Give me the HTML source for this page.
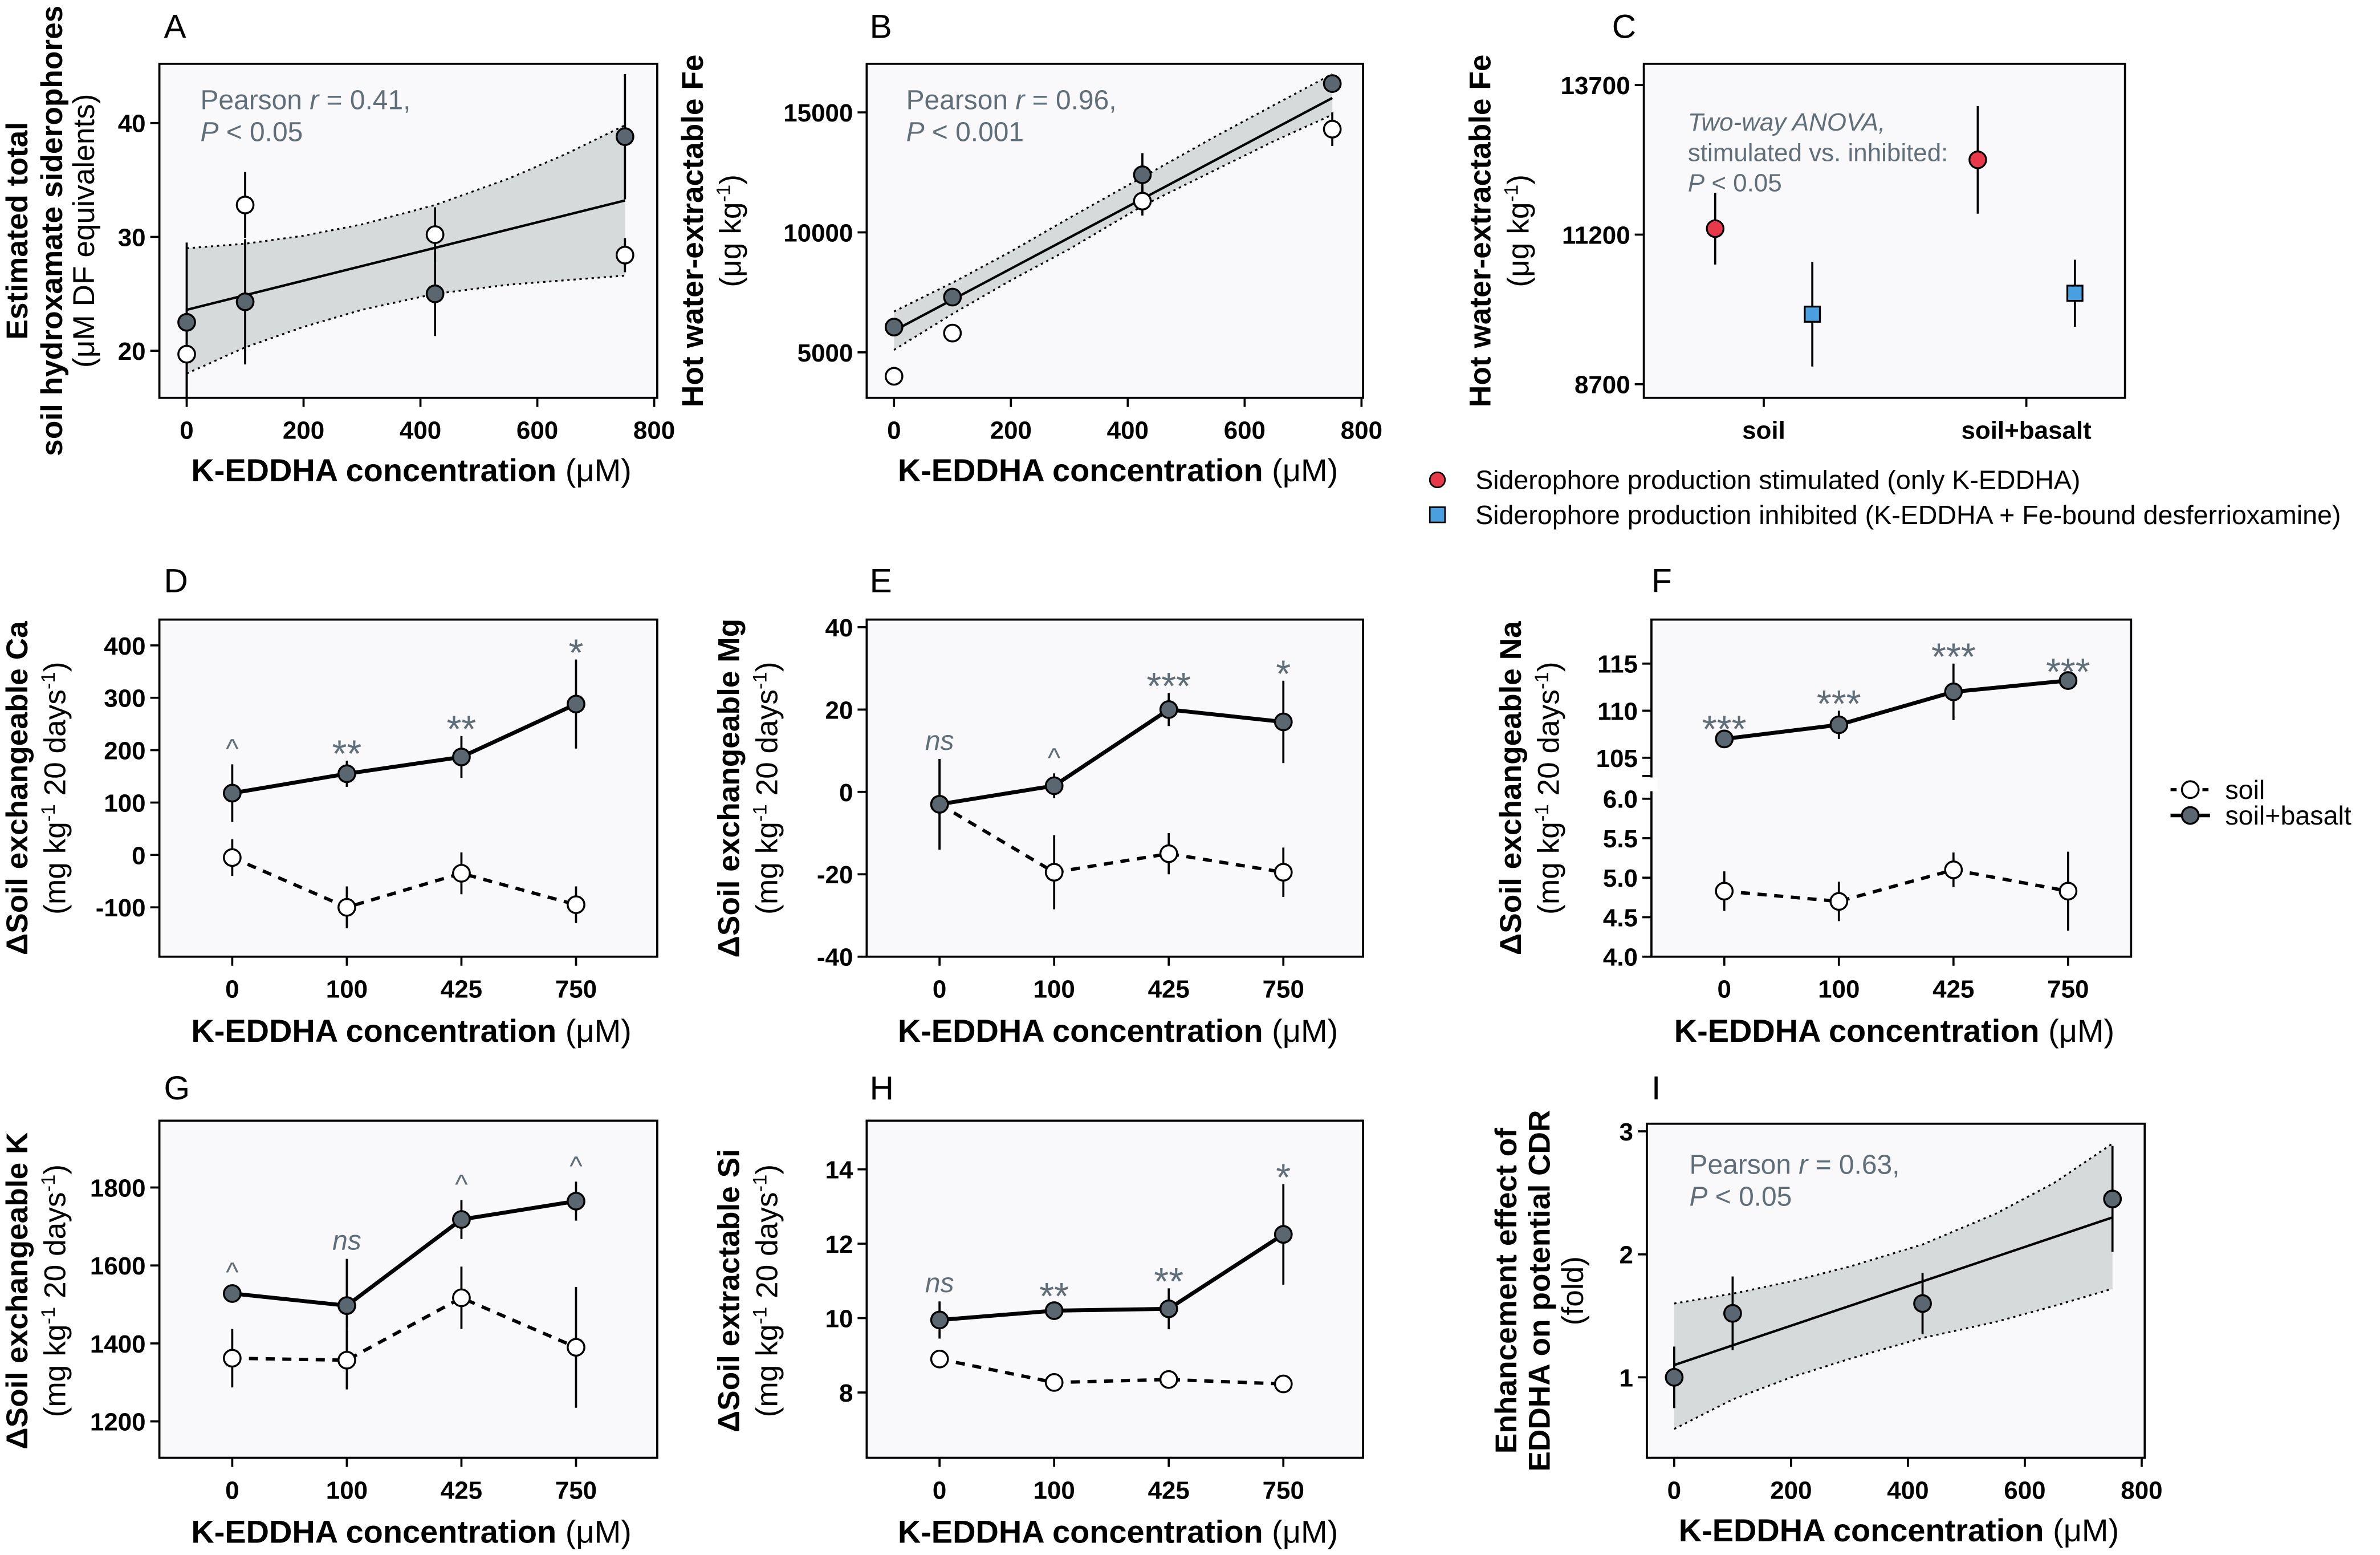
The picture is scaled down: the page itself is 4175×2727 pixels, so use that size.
<!DOCTYPE html>
<html><head><meta charset="utf-8"><style>
html,body{margin:0;padding:0;background:#fff}
svg{display:block}
text{font-family:"Liberation Sans",sans-serif}
.tk{font-family:"Liberation Sans Narrow","Liberation Sans",sans-serif;font-weight:bold;font-size:16.5px}
.tt{font-weight:bold;font-size:21px}
.yt{font-weight:bold;font-size:20px}
.ann{fill:#5f6e78;font-size:18px}
.lt{font-size:22px}
</style></head><body>
<svg id="fig" xmlns="http://www.w3.org/2000/svg" width="4175" height="2727" viewBox="0 0 1568 1024" preserveAspectRatio="none"></svg>
<script>
// ---- data ----
const contX=[0,100,425,750];
const catLabels=["0","100","425","750"];
const aBasalt=[22.5,24.3,25,38.8]; const aBasaltErr=[7,5.5,3.7,5.5];
const aSoil=[19.7,32.8,30.2,28.4]; const aSoilErr=[4,2.9,2.4,1.5];
const aFit=[23.6,33.2];
const bandX=[0,100,200,300,425,550,650,750];
const aBandHi=[29,29.4,30.1,31.1,32.8,35.1,37.3,39.8];
const aBandLo=[18,20.3,22.1,23.6,25,25.8,26.2,26.6];
const bBasalt=[6050,7300,12400,16200]; const bBasaltErr=[150,200,900,350];
const bSoil=[4000,5800,11300,14300]; const bSoilErr=[300,200,600,700];
const bFit=[5900,15600];
const bBandHi=[6700,7900,9200,10600,12300,14000,15300,16600];
const bBandLo=[5100,6600,8000,9300,11100,12600,13800,14900];
const cCats=["soil","soil+basalt"];
const cStim=[11300,12450]; const cStimErr=[600,900];
const cInhib=[9870,10220]; const cInhibErr=[875,560];
const dBasalt=[118,155,187,288]; const dBasaltErr=[55,25,40,85];
const dSoil=[-5,-100,-35,-95]; const dSoilErr=[35,40,40,35];
const dSig=["^","**","**","*"];
const eBasalt=[-3,1.5,20,17]; const eBasaltErr=[11,3,4,10];
const eSoil=[-3,-19.5,-15,-19.5]; const eSoilErr=[11,9,5,6];
const eSig=["ns","^","***","*"];
const fBasalt=[107,108.5,112,113.2]; const fBasaltErr=[0.3,1.5,3,0.2];
const fSoil=[4.83,4.7,5.1,4.83]; const fSoilErr=[0.25,0.25,0.22,0.5];
const fSig=["***","***","***","***"];
const gBasalt=[1528,1497,1718,1765]; const gBasaltErr=[15,120,50,50];
const gSoil=[1362,1357,1517,1390]; const gSoilErr=[75,75,80,155];
const gSig=["^","ns","^","^"];
const hBasalt=[9.95,10.2,10.25,12.25]; const hBasaltErr=[0.5,0.2,0.55,1.35];
const hSoil=[8.9,8.27,8.35,8.23]; const hSoilErr=[0.2,0.08,0.15,0.1];
const hSig=["ns","**","**","*"];
const iVal=[1.0,1.52,1.6,2.45]; const iErr=[0.25,0.3,0.25,0.43];
const iFit=[1.1,2.3];
const iBandHi=[1.6,1.68,1.78,1.9,2.08,2.33,2.58,2.9];
const iBandLo=[0.58,0.82,1.0,1.15,1.32,1.45,1.58,1.72];
const contTicks=[0,200,400,600,800];

// ---- helpers ----
const NS="http://www.w3.org/2000/svg";
const svg=document.getElementById('fig');
function mk(tag,attrs,name,parent){
  const el=document.createElementNS(NS,tag);
  for(const k in attrs) el.setAttribute(k,attrs[k]);
  
  
  (parent||svg).appendChild(el);
  return el;
}
function txt(x,y,s,cls,name,anchor,extra){
  const t=mk('text',Object.assign({x:x,y:y,'class':cls||'','text-anchor':anchor||'start'},extra||{}),name);
  t.textContent=s;return t;
}
function lin(d0,d1,r0,r1){return v=>r0+(v-d0)*(r1-r0)/(d1-d0);}
const GREY="#5b6770", ANN="#5f6e78";

function box(x0,y0,x1,y1,name){
  mk('rect',{x:x0,y:y0,width:x1-x0,height:y1-y0,fill:'#f9f8fb',stroke:'#000','stroke-width':1.4},name);
}
function yTicks(ticks,ys,x0,name,fmt){
  ticks.forEach(v=>{
    const y=ys(v);
    mk('line',{x1:x0-6,x2:x0,y1:y,y2:y,stroke:'#000','stroke-width':1.4},name+'-tick');
    txt(x0-9,y+6,fmt?fmt(v):String(v),'tk',name+'-label','end');
  });
}
function xTicks(vals,labels,xs,y0,name){
  vals.forEach((v,i)=>{
    const x=xs(v);
    mk('line',{x1:x,x2:x,y1:y0,y2:y0+6,stroke:'#000','stroke-width':1.4},name+'-tick');
    txt(x,y0+27,labels[i],'tk',name+'-label','middle');
  });
}
function xTitle(cx,y,name){
  const t=mk('text',{x:cx,y:y,'class':'tt','text-anchor':'middle'},name);
  t.innerHTML='K-EDDHA concentration <tspan font-weight="normal">(μM)</tspan>';
}
function yTitle(x,cy,html,bold,name){
  const t=mk('text',{x:0,y:0,'text-anchor':'middle','class':'yt',transform:`translate(${x},${cy}) rotate(-90)`},name);
  if(!bold) t.style.fontWeight='normal';
  t.innerHTML=html;
}
function letter(x,y,s){txt(x,y,s,'lt','panel-letter-'+s);}
function errbar(x,ys,v,e,name){
  mk('line',{x1:x,x2:x,y1:ys(v-e),y2:ys(v+e),stroke:'#000','stroke-width':1.4},name);
}
function dot(x,y,filled,name){
  mk('circle',{cx:x,cy:y,r:5.5,fill:filled?GREY:'#fff',stroke:'#000','stroke-width':1.3},name);
}
function poly(pts,attrs,name){
  mk('polyline',Object.assign({points:pts.map(p=>p.join(',')).join(' '),fill:'none'},attrs),name);
}
const UNIT='(mg kg<tspan dy="-7" font-size="13">-1</tspan><tspan dy="7"> 20 days</tspan><tspan dy="-7" font-size="13">-1</tspan><tspan dy="7">)</tspan>';
const UGKG='(μg kg<tspan dy="-7" font-size="13">-1</tspan><tspan dy="7">)</tspan>';

// ---- continuous regression panels (A, B, I) ----
function regPanel(p){
  box(p.x0,p.y0,p.x1,p.y1,p.id+'-plot-area');
  const xs=lin(0,800,p.xa,p.xb), ys=lin(p.t0,p.t1,p.p0,p.p1);
  const up=bandX.map((x,i)=>[xs(x),ys(p.hi[i])]);
  const lo=bandX.map((x,i)=>[xs(x),ys(p.lo[i])]);
  mk('polygon',{points:up.concat(lo.slice().reverse()).map(q=>q.join(',')).join(' '),fill:'#d6dadb',stroke:'none'},p.id+'-confidence-band');
  poly(up,{stroke:'#000','stroke-width':1.2,'stroke-dasharray':'1.5,2.5'},p.id+'-band-upper');
  poly(lo,{stroke:'#000','stroke-width':1.2,'stroke-dasharray':'1.5,2.5'},p.id+'-band-lower');
  p.series.forEach(s=>s.v.forEach((v,i)=>errbar(xs(contX[i]),ys,v,s.e[i],p.id+'-errorbar')));
  mk('line',{x1:xs(0),y1:ys(p.fit[0]),x2:xs(750),y2:ys(p.fit[1]),stroke:'#000','stroke-width':1.6},p.id+'-regression-line');
  p.series.forEach(s=>s.v.forEach((v,i)=>dot(xs(contX[i]),ys(v),s.f,p.id+'-point')));
  yTicks(p.ticks,ys,p.x0,p.id+'-y',p.fmt);
  xTicks(contTicks,contTicks.map(String),xs,p.y1,p.id+'-x');
  xTitle((p.x0+p.x1)/2+2,p.y1+55,p.id+'-x-title');
  const t=mk('text',{x:p.ax,y:p.ay,'class':'ann'},p.id+'-pearson-text');
  t.innerHTML=`Pearson <tspan font-style="italic">r</tspan> = ${p.r},`;
  const t2=mk('text',{x:p.ax,y:p.ay+21,'class':'ann'},p.id+'-p-value-text');
  t2.innerHTML=`<tspan font-style="italic">P</tspan> &lt; ${p.pv}`;
}
regPanel({id:'a',x0:105,y0:42,x1:433,y1:262,xa:123,xb:431,t0:20,t1:40,p0:231,p1:81,ticks:[20,30,40],
  hi:aBandHi,lo:aBandLo,fit:aFit,series:[{v:aBasalt,e:aBasaltErr,f:true},{v:aSoil,e:aSoilErr,f:false}],r:'0.41',pv:'0.05',ax:132,ay:72});
regPanel({id:'b',x0:571,y0:42,x1:898,y1:262,xa:589,xb:897,t0:5000,t1:15000,p0:232,p1:74,ticks:[5000,10000,15000],
  hi:bBandHi,lo:bBandLo,fit:bFit,series:[{v:bBasalt,e:bBasaltErr,f:true},{v:bSoil,e:bSoilErr,f:false}],r:'0.96',pv:'0.001',ax:597,ay:72});
regPanel({id:'i',x0:1085,y0:740,x1:1413,y1:960,xa:1103,xb:1411,t0:1,t1:3,p0:907,p1:745,ticks:[1,2,3],
  hi:iBandHi,lo:iBandLo,fit:iFit,series:[{v:iVal,e:iErr,f:true}],r:'0.63',pv:'0.05',ax:1113,ay:773});

// ---- panel C ----
(function(){
  const x0=1083,x1=1400,y0=42,y1=262;
  box(x0,y0,x1,y1,'c-plot-area');
  const ys=lin(8700,13700,253,56);
  const cx=[1162,1335];
  cCats.forEach((c,i)=>{
    const xa=cx[i]-32,xb=cx[i]+32;
    errbar(xa,ys,cStim[i],cStimErr[i],'c-errorbar');
    errbar(xb,ys,cInhib[i],cInhibErr[i],'c-errorbar');
    mk('circle',{cx:xa,cy:ys(cStim[i]),r:5.5,fill:'#e8394b',stroke:'#000','stroke-width':1.2},'c-stimulated-point');
    mk('rect',{x:xb-5,y:ys(cInhib[i])-5,width:10,height:10,fill:'#4a9fe0',stroke:'#000','stroke-width':1.2},'c-inhibited-point');
    mk('line',{x1:cx[i],x2:cx[i],y1:y1,y2:y1+6,stroke:'#000','stroke-width':1.4},'c-x-tick');
    txt(cx[i],y1+27,c,'tk','c-x-label','middle');
  });
  yTicks([8700,11200,13700],ys,x0,'c-y');
  const a=mk('text',{x:1112,y:86,'class':'ann','font-size':'16.5','font-style':'italic'},'c-anova-text');a.textContent='Two-way ANOVA,';
  a.style.fontSize='16.5px';
  const b=mk('text',{x:1112,y:106,'class':'ann'},'c-anova-text2');b.textContent='stimulated vs. inhibited:';
  b.style.fontSize='16.5px';
  const c=mk('text',{x:1112,y:126,'class':'ann'},'c-anova-p');c.innerHTML='<tspan font-style="italic">P</tspan> &lt; 0.05';
  c.style.fontSize='16.5px';
  mk('circle',{cx:947,cy:316,r:5,fill:'#e8394b',stroke:'#000','stroke-width':1},'legend-stimulated-marker');
  txt(972,322,'Siderophore production stimulated (only K-EDDHA)','','legend-stimulated-label','start',{'font-size':'17.5'});
  mk('rect',{x:942,y:334,width:10,height:10,fill:'#4a9fe0',stroke:'#000','stroke-width':1},'legend-inhibited-marker');
  txt(972,345,'Siderophore production inhibited (K-EDDHA + Fe-bound desferrioxamine)','','legend-inhibited-label','start',{'font-size':'17.5'});
})();

// ---- categorical panels ----
function catPanel(p){
  box(p.x0,p.y0,p.x1,p.y1,p.id+'-plot-area');
  const cx=i=>p.x0+48+i*75.5;
  const ys=p.ys;
  const sp=p.soil.map((v,i)=>[cx(i),ys(v)]), bp=p.bas.map((v,i)=>[cx(i),ys(v)]);
  p.soil.forEach((v,i)=>errbar(cx(i),ys,v,p.soilE[i],p.id+'-soil-errorbar'));
  p.bas.forEach((v,i)=>errbar(cx(i),ys,v,p.basE[i],p.id+'-basalt-errorbar'));
  poly(sp,{stroke:'#000','stroke-width':2.2,'stroke-dasharray':'6,5'},p.id+'-soil-line');
  poly(bp,{stroke:'#000','stroke-width':2.6},p.id+'-basalt-line');
  p.soil.forEach((v,i)=>dot(cx(i),ys(v),false,p.id+'-soil-point'));
  p.bas.forEach((v,i)=>dot(cx(i),ys(v),true,p.id+'-basalt-point'));
  p.sig.forEach((s,i)=>{
    const it=(s==='ns');
    const top=ys(p.bas[i]+p.basE[i]);
    txt(cx(i),top-(s==='^'?4:6)+(s.indexOf('*')>=0?10:0),s,'',p.id+'-significance','middle',
      {fill:ANN,'font-size':s.indexOf('*')>=0?'25':'18','font-style':it?'italic':'normal'});
  });
  yTicks(p.ticks,ys,p.x0,p.id+'-y',p.fmt);
  [0,1,2,3].forEach(i=>{
    mk('line',{x1:cx(i),x2:cx(i),y1:p.y1,y2:p.y1+6,stroke:'#000','stroke-width':1.4},p.id+'-x-tick');
    txt(cx(i),p.y1+27,catLabels[i],'tk',p.id+'-x-label','middle');
  });
  xTitle((p.x0+p.x1)/2+2,p.y1+56,p.id+'-x-title');
}
catPanel({id:'d',x0:105,y0:408,x1:433,y1:630,ys:lin(0,400,563,425),ticks:[-100,0,100,200,300,400],
  soil:dSoil,soilE:dSoilErr,bas:dBasalt,basE:dBasaltErr,sig:dSig});
catPanel({id:'e',x0:571,y0:408,x1:898,y1:630,ys:lin(-40,40,630,413),ticks:[-40,-20,0,20,40],
  soil:eSoil,soilE:eSoilErr,bas:eBasalt,basE:eBasaltErr,sig:eSig});
const fys=v=>v>50?lin(105,115,499,437)(v):lin(4,6,630,526)(v);
catPanel({id:'f',x0:1088,y0:408,x1:1404,y1:630,ys:fys,ticks:[4,4.5,5,5.5,6,105,110,115],
  fmt:v=>v>50?String(v):v.toFixed(1),soil:fSoil,soilE:fSoilErr,bas:fBasalt,basE:fBasaltErr,sig:fSig});
mk('rect',{x:1084,y:512,width:8,height:9,fill:'#fff'},'f-axis-break');
mk('line',{x1:1082,x2:1088,y1:511,y2:511,stroke:'#000','stroke-width':1.4},'f-break-tick');
catPanel({id:'g',x0:105,y0:738,x1:433,y1:960,ys:lin(1200,1800,936,782),ticks:[1200,1400,1600,1800],
  soil:gSoil,soilE:gSoilErr,bas:gBasalt,basE:gBasaltErr,sig:gSig});
catPanel({id:'h',x0:571,y0:738,x1:898,y1:960,ys:lin(8,14,917,770),ticks:[8,10,12,14],
  soil:hSoil,soilE:hSoilErr,bas:hBasalt,basE:hBasaltErr,sig:hSig});

// legend F
mk('line',{x1:1430,x2:1456,y1:520,y2:520,stroke:'#000','stroke-width':2,'stroke-dasharray':'4,3'},'legend-soil-line');
dot(1443,520,false,'legend-soil-marker');
txt(1466,526,'soil','','legend-soil-label','start',{'font-size':'17.5'});
mk('line',{x1:1430,x2:1456,y1:537,y2:537,stroke:'#000','stroke-width':2.4},'legend-basalt-line');
dot(1443,537,true,'legend-basalt-marker');
txt(1466,543,'soil+basalt','','legend-basalt-label','start',{'font-size':'17.5'});

// titles & letters
yTitle(18,152,'Estimated total',true,'a-y-title-1');
yTitle(41,152,'soil hydroxamate siderophores',true,'a-y-title-2');
yTitle(62,152,'(μM DF equivalents)',false,'a-y-title-3');
yTitle(463,152,'Hot water-extractable Fe',true,'b-y-title');
yTitle(488,152,UGKG,false,'b-y-unit');
yTitle(982,152,'Hot water-extractable Fe',true,'c-y-title');
yTitle(1007,152,UGKG,false,'c-y-unit');
yTitle(18,519,'ΔSoil exchangeable Ca',true,'d-y-title');
yTitle(43,519,UNIT,false,'d-y-unit');
yTitle(487,519,'ΔSoil exchangeable Mg',true,'e-y-title');
yTitle(512,519,UNIT,false,'e-y-unit');
yTitle(1002,519,'ΔSoil exchangeable Na',true,'f-y-title');
yTitle(1027,519,UNIT,false,'f-y-unit');
yTitle(18,850,'ΔSoil exchangeable K',true,'g-y-title');
yTitle(43,850,UNIT,false,'g-y-unit');
yTitle(487,850,'ΔSoil extractable Si',true,'h-y-title');
yTitle(512,850,UNIT,false,'h-y-unit');
yTitle(999,850,'Enhancement effect of',true,'i-y-title-1');
yTitle(1021,850,'EDDHA on potential CDR',true,'i-y-title-2');
yTitle(1043,850,'(fold)',false,'i-y-title-3');
letter(108,25,'A');letter(573,25,'B');letter(1062,25,'C');
letter(108,390,'D');letter(573,390,'E');letter(1088,390,'F');
letter(108,724,'G');letter(573,724,'H');letter(1088,724,'I');
</script>
</body></html>
